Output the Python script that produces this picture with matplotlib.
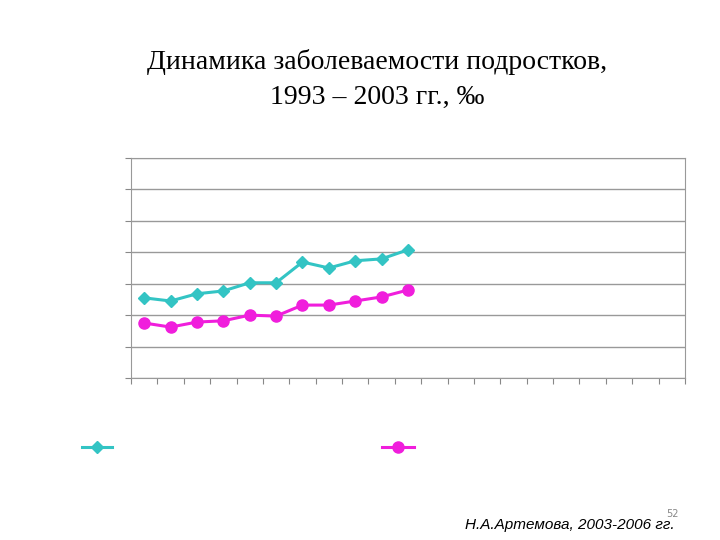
import numpy as np
import matplotlib.pyplot as plt

# 21 category slots, data for first 11 (1993-2003)
n_slots = 21
teens_a = [2.55, 2.45, 2.68, 2.77, 3.03, 3.03, 3.69, 3.50, 3.73, 3.79, 4.08]
teens_b = [1.75, 1.62, 1.78, 1.82, 2.00, 1.97, 2.32, 2.32, 2.45, 2.58, 2.80]
cyan = '#33C4C4'
magenta = '#F01EDC'

fig = plt.figure(figsize=(7.2, 5.4), dpi=100)
fig.text(377/720, 1 - 62/540, 'Динамика заболеваемости подростков,', ha='center', va='center',
         family='Liberation Serif', fontsize=20)
fig.text(377/720, 1 - 97/540, '1993 – 2003 гг., ‰', ha='center', va='center',
         family='Liberation Serif', fontsize=20)

ax = fig.add_axes([131/720, 1 - 378/540, (685-131)/720, (378-158)/540])
x = np.arange(len(teens_a)) + 0.5
ax.plot(x, teens_a, color=cyan, lw=2.2, marker='D', ms=6)
ax.plot(x, teens_b, color=magenta, lw=2.2, marker='o', ms=8)
ax.set_xlim(0, n_slots)
ax.set_ylim(0, 7)
ax.set_yticks(np.arange(0, 8))
ax.set_xticks(np.arange(0, n_slots + 1))
ax.tick_params(labelleft=False, labelbottom=False, length=4, color='#888888', direction='out')
ax.grid(axis='y', color='#999999', lw=1)
for s in ax.spines.values():
    s.set_color('#999999')

# legend markers (labels rendered invisible in original)
lg = fig.add_axes([0, 0, 1, 1], facecolor='none')
lg.set_xlim(0, 720); lg.set_ylim(540, 0); lg.axis('off')
lg.plot([82, 112], [447, 447], color=cyan, lw=2.2)
lg.plot([97], [447], color=cyan, marker='D', ms=6)
lg.plot([382, 414], [447, 447], color=magenta, lw=2.2)
lg.plot([398], [447], color=magenta, marker='o', ms=8)

fig.text(465/720, 1 - 525/540, 'Н.А.Артемова, 2003-2006 гг.', style='italic', fontsize=11,
         family='Liberation Sans', va='center')
fig.text(672/720, 1 - 514/540, '52', fontsize=7, color='#888888', ha='center', va='center')

fig.savefig('out.png', dpi=100)
